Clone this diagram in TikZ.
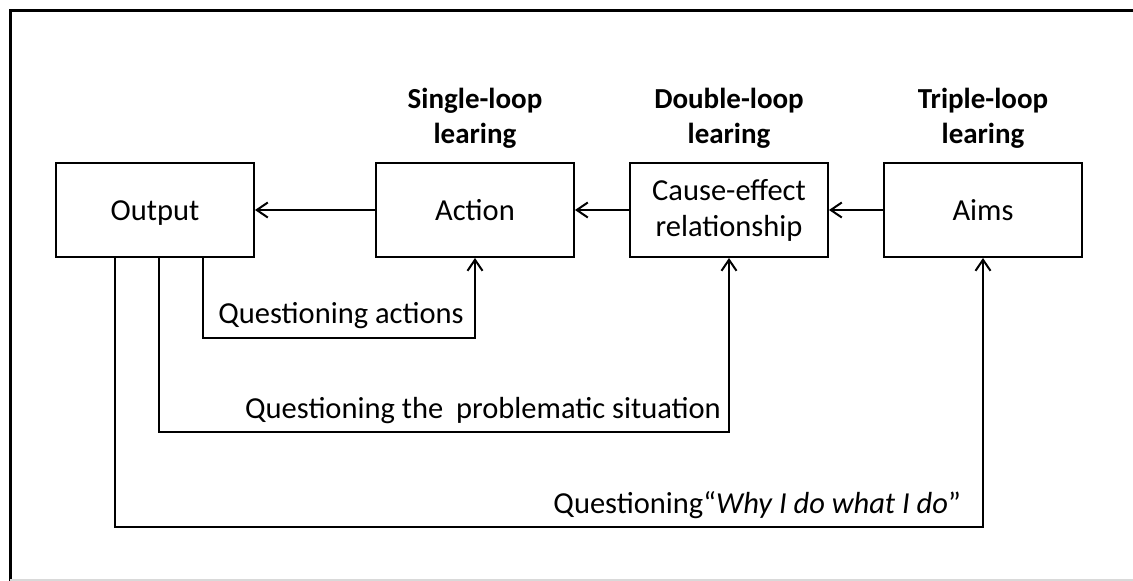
\documentclass[tikz,border=0pt]{standalone}
\usepackage{fontspec}
\setmainfont{Carlito}
\usetikzlibrary{arrows.meta}
\begin{document}
\begin{tikzpicture}[x=1pt,y=-1pt,
  box/.style={draw,line width=2pt,minimum width=198pt,minimum height=94pt,inner sep=0pt,align=center,font=\fontsize{30.5}{36}\selectfont},
  single/.style={text height=20pt,text depth=0pt},
  title/.style={font=\bfseries\fontsize{29}{35}\selectfont,inner sep=0pt,anchor=base},
  lbl/.style={font=\fontsize{30.5}{35}\selectfont,inner sep=0pt},
  arr/.style={line width=2pt,-{Straight Barb[length=11pt,width=15pt,line width=2pt]}},
  loop/.style={line width=2pt,-{Straight Barb[length=11pt,width=15pt,line width=2pt]}}
]
\useasboundingbox (0,0) rectangle (1133,581);
\fill[white] (0,0) rectangle (1133,581);
% frame
\draw[line width=3pt] (10,581) -- (10,10) -- (1133,10);
\draw[line width=1.5pt,black!15] (10,580) -- (1133,580);

% boxes
\node[box,single] (out) at (155,210) {Output};
\node[box,single] (act) at (475,210) {Action};
\node[box] (cau) at (729,210) {\rule{0pt}{22pt}Cause-effect\\relationship};
\node[box,single] (aim) at (983,210) {Aims};

% titles
\node[title] (t1a) at (475,108) {Single-loop};
\node[title] (t1b) at (475,143) {learing};
\node[title] (t2a) at (729,108) {Double-loop};
\node[title] (t2b) at (729,143) {learing};
\node[title] (t3a) at (983,108) {Triple-loop};
\node[title] (t3b) at (983,143) {learing};

% horizontal arrows
\draw[arr] (act.west) -- (out.east);
\draw[arr] (cau.west) -- (act.east);
\draw[arr] (aim.west) -- (cau.east);

% loops
\coordinate (o1) at (203,257);
\coordinate (o2) at (159,257);
\coordinate (o3) at (115,257);
\draw[loop] (o1) -- (203,338) -| (act.south);
\draw[loop] (o2) -- (159,432) -| (cau.south);
\draw[loop] (o3) -- (115,527) -| (aim.south);

% labels
\node[lbl,anchor=base] (l1) at (341,323) {Questioning actions};
\node[lbl,anchor=base east] (l2) at (721,418) {Questioning the\hspace{0.2em} problematic situation};
\node[lbl,anchor=base east] (l3) at (961,513) {Questioning“\textit{Why I do what I do}”};
\end{tikzpicture}
\end{document}
